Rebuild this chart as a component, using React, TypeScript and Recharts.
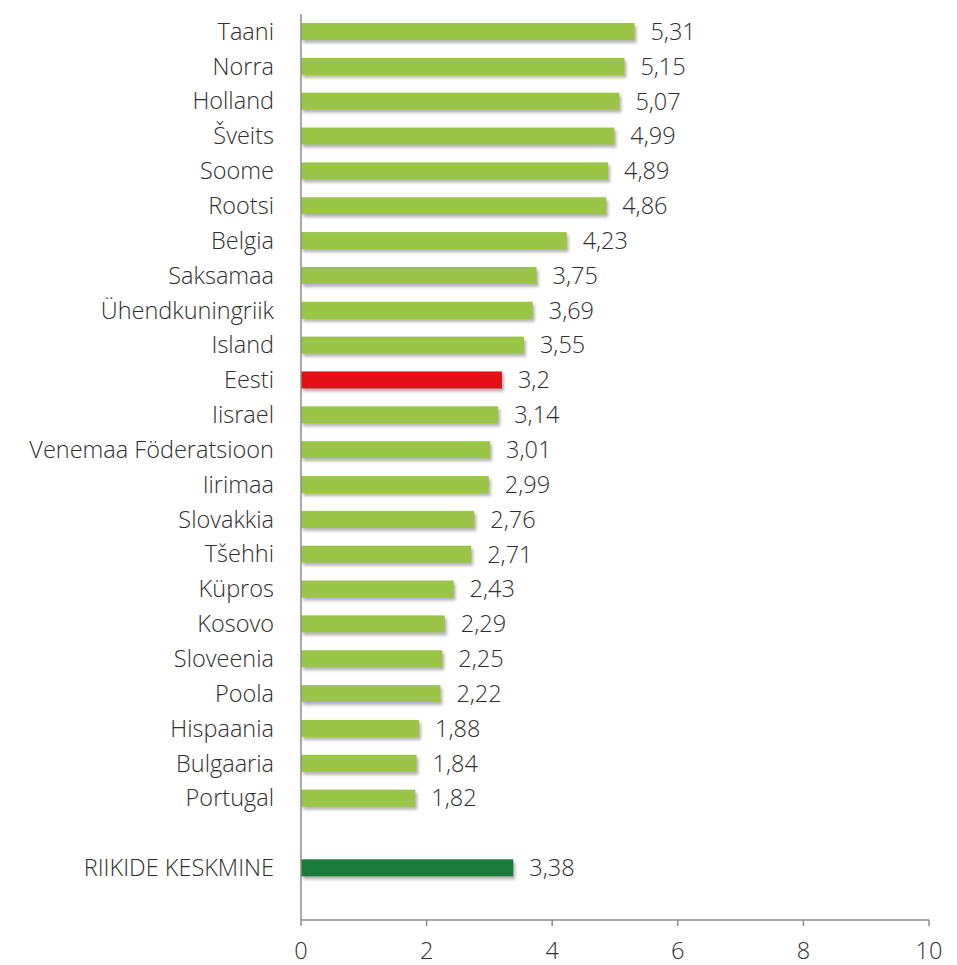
import { BarChart, Bar, XAxis, YAxis, Cell, LabelList } from 'recharts';

const countries = [
  'Taani', 'Norra', 'Holland', 'Šveits', 'Soome', 'Rootsi', 'Belgia', 'Saksamaa',
  'Ühendkuningriik', 'Island', 'Eesti', 'Iisrael', 'Venemaa Föderatsioon', 'Iirimaa',
  'Slovakkia', 'Tšehhi', 'Küpros', 'Kosovo', 'Sloveenia', 'Poola', 'Hispaania',
  'Bulgaaria', 'Portugal',
];
const values = [
  5.31, 5.15, 5.07, 4.99, 4.89, 4.86, 4.23, 3.75, 3.69, 3.55, 3.2, 3.14, 3.01, 2.99,
  2.76, 2.71, 2.43, 2.29, 2.25, 2.22, 1.88, 1.84, 1.82,
];
const averageLabel = 'RIIKIDE KESKMINE';
const averageValue = 3.38;
const xTicks = [0, 2, 4, 6, 8, 10];

const GREEN = '#9bc546';
const RED = '#e31018';
const DARK_GREEN = '#1a7a3a';
const FONT = { fill: '#2e2e2e', fontSize: 23.5, fontFamily: 'Open Sans', fontWeight: 300 };

// blank slots keep the gap before the average bar and below it
const data = [
  ...countries.map((name, i) => ({ id: `c${i}`, name, value: values[i] as number | null })),
  { id: 'gap1', name: '', value: null },
  { id: 'avg', name: averageLabel, value: averageValue },
  { id: 'gap2', name: '', value: null },
];

const colorFor = (name: string) =>
  name === 'Eesti' ? RED : name === averageLabel ? DARK_GREEN : GREEN;

const BarWithShadow = (props: any) => {
  const { x, y, width, height, fill } = props;
  if (!width || width <= 0) return null;
  return (
    <g>
      <rect x={x + 2} y={y + 3} width={width} height={height} fill="#777" opacity={0.55} filter="url(#barShadow)" />
      <rect x={x} y={y} width={width} height={height} fill={fill} />
    </g>
  );
};

export default function App() {
  const names = Object.fromEntries(data.map(d => [d.id, d.name]));
  return (
    <div style={{ position: 'absolute', left: 0, top: 0, background: '#fff' }}>
      <BarChart
        width={957}
        height={965}
        data={data}
        layout="vertical"
        margin={{ top: 14, right: 28, left: 0, bottom: 5 }}
        barCategoryGap={0}
      >
        <defs>
          <filter id="barShadow" x="-10%" y="-50%" width="120%" height="200%">
            <feGaussianBlur stdDeviation="1.6" />
          </filter>
        </defs>
        <XAxis
          type="number"
          domain={[0, 10]}
          ticks={xTicks}
          axisLine={{ stroke: '#8c8c8c', strokeWidth: 1.5 }}
          tickLine={{ stroke: '#8c8c8c', strokeWidth: 1.5 }}
          tickSize={6}
          tickMargin={16}
          height={40}
          tick={FONT}
        />
        <YAxis
          type="category"
          dataKey="id"
          width={301}
          axisLine={{ stroke: '#8c8c8c', strokeWidth: 1.5 }}
          tickLine={false}
          tickMargin={21}
          interval={0}
          tickFormatter={(id: string) => names[id] ?? ''}
          tick={FONT}
        />
        <Bar dataKey="value" barSize={17} isAnimationActive={false} shape={BarWithShadow}>
          {data.map(d => (
            <Cell key={d.id} fill={colorFor(d.name)} />
          ))}
          <LabelList
            dataKey="value"
            position="right"
            offset={16}
            formatter={(v: any) => (v == null ? '' : String(v).replace('.', ','))}
            style={FONT}
          />
        </Bar>
      </BarChart>
    </div>
  );
}
